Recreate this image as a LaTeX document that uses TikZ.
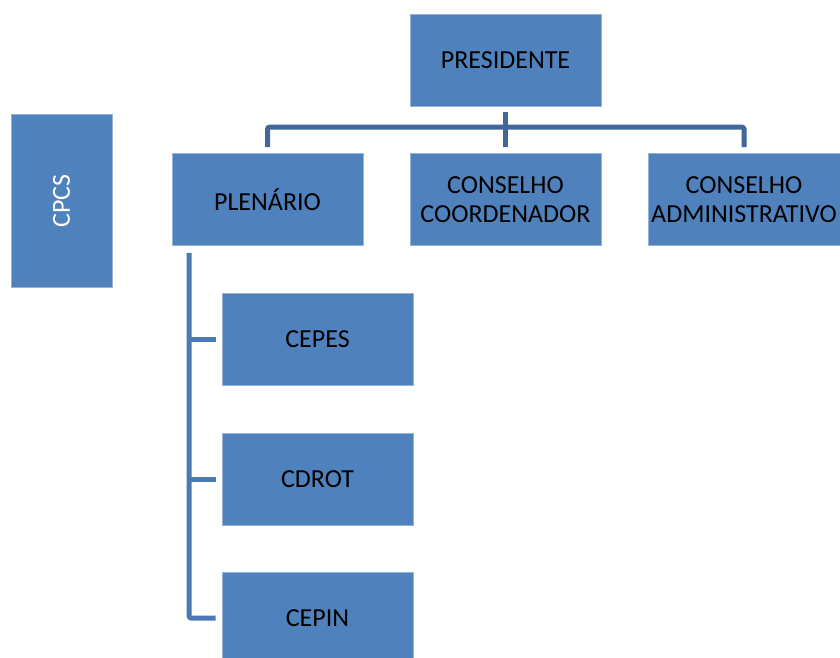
\documentclass[tikz,border=0pt]{standalone}
\usepackage{fontspec}
\setmainfont{Carlito}
\definecolor{boxblue}{HTML}{4F81BD}
\definecolor{topline}{HTML}{3F6797}
\definecolor{leftline}{HTML}{4A7AB4}
\begin{document}
\begin{tikzpicture}[x=1pt,y=-1pt,
  orgbox/.style={draw=boxblue!60!white,line width=0.6pt,fill=boxblue,minimum width=191pt,minimum height=92pt,inner sep=0pt,align=center,font=\fontsize{26}{29}\selectfont,text=black},
  topconn/.style={draw=topline,line width=5pt,rounded corners=2pt},
  leftconn/.style={draw=leftline,line width=5pt,rounded corners=2pt}]
\useasboundingbox (0,0) rectangle (840,657);
\begin{scope}
\clip (0,0) rectangle (840,657);
\node[orgbox] (pres) at (505.5,60) {PRESIDENTE};
\node[orgbox] (plen) at (267.5,199.5) {PLENÁRIO};
\node[orgbox] (cc) at (505.5,199.5) {CONSELHO\\COORDENADOR};
\node[orgbox,minimum width=192pt] (ca) at (744,199.5) {CONSELHO\\ADMINISTRATIVO};
\node[orgbox,minimum width=101pt,minimum height=173pt] (cpcs) at (61.5,201) {};
\node[rotate=90,text=white,font=\fontsize{26}{29}\selectfont] (cpcst) at (cpcs.center) {CPCS};
\node[orgbox] (cepes) at (317.5,339) {CEPES};
\node[orgbox] (cdrot) at (317.5,479) {CDROT};
\node[orgbox] (cepin) at (317.5,618) {CEPIN};
% top connectors
\coordinate (bar) at ([yshift=26]plen.north);
\draw[topconn] ([yshift=-6]pres.south) -- ([yshift=6]cc.north);
\draw[topconn] ([yshift=6]plen.north) |- (bar -| pres.south) -| ([yshift=6]ca.north);
% left connectors
\coordinate (vtop) at ([xshift=17.5,yshift=-7]plen.south west);
\draw[leftconn] (vtop) |- ([xshift=-6]cepin.west);
\draw[leftconn] (vtop |- cepes.west) -- ([xshift=-6]cepes.west);
\draw[leftconn] (vtop |- cdrot.west) -- ([xshift=-6]cdrot.west);
\end{scope}
\end{tikzpicture}
\end{document}
